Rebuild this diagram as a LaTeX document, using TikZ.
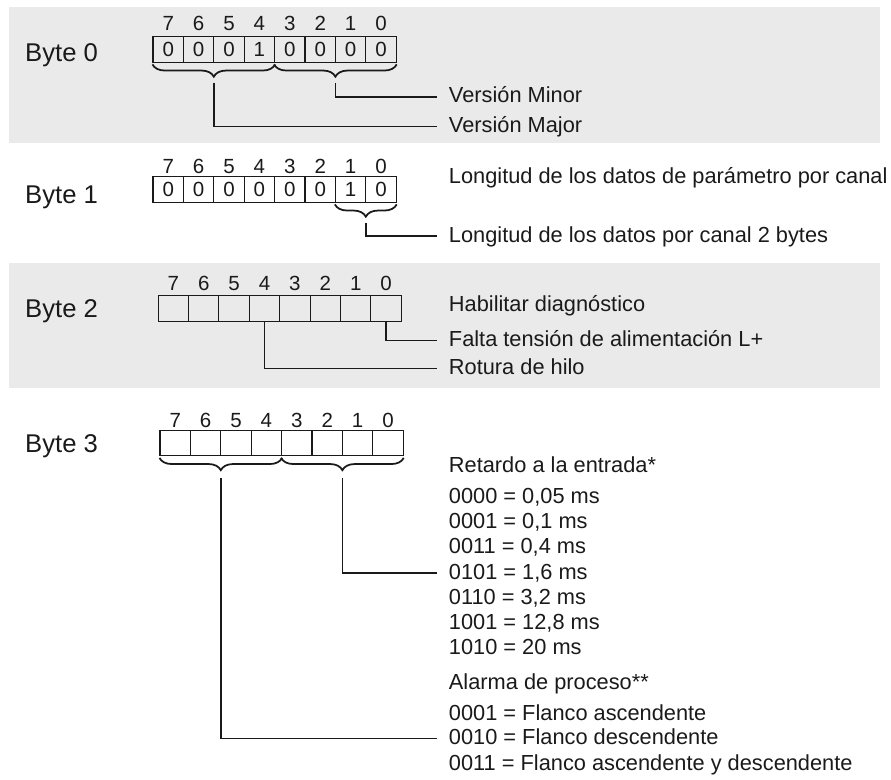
\documentclass[tikz,border=0pt]{standalone}
\usepackage{fontspec}
\setmainfont{Liberation Sans}
\usepackage{tikz}
\usetikzlibrary{decorations.pathreplacing,calc}
\definecolor{band}{RGB}{234,234,234}
\definecolor{ink}{RGB}{26,26,26}

\begin{document}
\begin{tikzpicture}[x=0.03cm, y=-0.03cm, color=ink]

\tikzstyle{cell} = [rectangle, draw, line width=0.9pt, minimum width=25.95pt, minimum height=21.5pt, inner sep=0pt, text height=12.5pt, text depth=0pt, font=\fontsize{17.5}{20}\selectfont]
\tikzstyle{bitnr} = [inner sep=0pt, text height=12.5pt, text depth=0pt, font=\fontsize{17.5}{20}\selectfont]
\tikzstyle{bytelbl} = [anchor=west, inner sep=0pt, text height=15.7pt, text depth=0pt, font=\fontsize{21.9}{26}\selectfont]
\tikzstyle{txt} = [anchor=west, inner xsep=10pt, inner ysep=0pt, text height=13.2pt, text depth=2.5pt, font=\fontsize{18.6}{22}\selectfont]
\tikzstyle{brc} = [decorate, decoration={brace, mirror, amplitude=10.5pt, raise=1.5pt}, line width=1.5pt]
\tikzstyle{lead} = [line width=1.5pt]

\useasboundingbox (0,0) rectangle (891,779);
\fill[band] (9,7) rectangle (880,143);
\fill[band] (9,263) rectangle (880,388);

% Byte 0
\node[bytelbl] (n0) at (25,52) {Byte 0};
\foreach \i/\v in {7/0,6/0,5/0,4/1,3/0,2/0,1/0,0/0} {
  \node[cell] (a\i) at ({168.2+(7-\i)*30.4},49.5) {\v};
  \node[bitnr] at ({168.2+(7-\i)*30.4},23.5) {\i};
}
\draw[brc] (a7.south west) -- (a4.south east);
\draw[brc] (a3.south west) -- (a0.south east);
\coordinate (ta) at ($(a7.south west)!.5!(a4.south east)+(0,20)$);
\coordinate (tb) at ($(a3.south west)!.5!(a0.south east)+(0,20)$);
\node[txt] (minor) at (437,96.7) {Versión Minor};
\node[txt] (major) at (437,126.5) {Versión Major};
\draw[lead] (tb) |- (minor);
\draw[lead] (ta) |- (major);

% Byte 1
\node[bytelbl] (n1) at (25,194.5) {Byte 1};
\foreach \i/\v in {7/0,6/0,5/0,4/0,3/0,2/0,1/1,0/0} {
  \node[cell] (b\i) at ({168.2+(7-\i)*30.4},189.5) {\v};
  \node[bitnr] at ({168.2+(7-\i)*30.4},166.5) {\i};
}
\draw[brc] (b1.south west) -- (b0.south east);
\coordinate (tc) at ($(b1.south west)!.5!(b0.south east)+(0,20)$);
\node[txt] (plen) at (437,177) {Longitud de los datos de parámetro por canal};
\node[txt] (blen) at (437,236) {Longitud de los datos por canal 2 bytes};
\draw[lead] (tc) |- (blen);

% Byte 2
\node[bytelbl] (n2) at (25,308.5) {Byte 2};
\foreach \i in {7,...,0} {
  \node[cell] (c\i) at ({173.3+(7-\i)*30.4},308.5) {};
  \node[bitnr] at ({173.3+(7-\i)*30.4},283.5) {\i};
}
\node[txt] (diag) at (437,305.7) {Habilitar diagnóstico};
\node[txt] (falta) at (437,340.5) {Falta tensión de alimentación L+};
\node[txt] (rotura) at (437,368.5) {Rotura de hilo};
\draw[lead] (c0.south) |- (falta);
\draw[lead] (c4.south) |- (rotura);

% Byte 3
\node[bytelbl] (n3) at (25,443.5) {Byte 3};
\foreach \i in {7,...,0} {
  \node[cell] (d\i) at ({175.2+(7-\i)*30.4},443) {};
  \node[bitnr] at ({175.2+(7-\i)*30.4},420) {\i};
}
\draw[brc] (d7.south west) -- (d4.south east);
\draw[brc] (d3.south west) -- (d0.south east);
\coordinate (td) at ($(d7.south west)!.5!(d4.south east)+(0,22)$);
\coordinate (te) at ($(d3.south west)!.5!(d0.south east)+(0,22)$);

\node[txt] (ret) at (437,466) {Retardo a la entrada*};
\node[txt] (r1) at (437,497) {0000 = 0,05 ms};
\node[txt] (r2) at (437,522) {0001 = 0,1 ms};
\node[txt] (r3) at (437,547) {0011 = 0,4 ms};
\node[txt] (r4) at (437,573) {0101 = 1,6 ms};
\node[txt] (r5) at (437,598) {0110 = 3,2 ms};
\node[txt] (r6) at (437,623) {1001 = 12,8 ms};
\node[txt] (r7) at (437,648.5) {1010 = 20 ms};
\node[txt] (alm) at (437,683) {Alarma de proceso**};
\node[txt] (f1) at (437,714) {0001 = Flanco ascendente};
\node[txt] (f2) at (437,738.5) {0010 = Flanco descendente};
\node[txt] (f3) at (437,764) {0011 = Flanco ascendente y descendente};

\draw[lead] (te) |- (r4);
\draw[lead] (td) |- (f2);

\end{tikzpicture}
\end{document}
